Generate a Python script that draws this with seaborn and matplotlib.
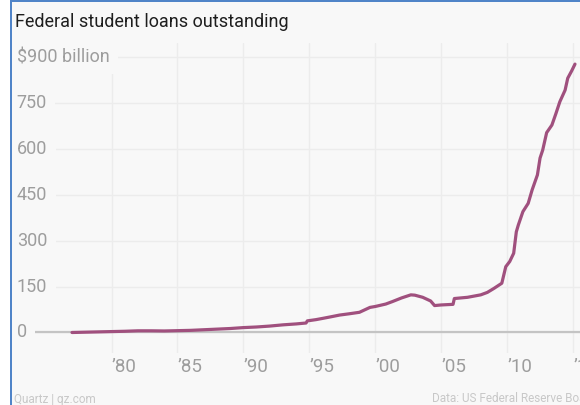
import matplotlib
matplotlib.use("Agg")
import matplotlib.pyplot as plt
import matplotlib.transforms as mtransforms
from matplotlib.patches import Rectangle
import seaborn as sns
import pandas as pd

# Federal student loans outstanding, billions of dollars
years = [1977.0, 1978.0, 1979.0, 1980.0, 1981.0, 1982.0, 1983.0, 1984.0,
         1985.0, 1986.0, 1987.0, 1988.0, 1989.0, 1990.0, 1991.0, 1992.0,
         1993.0, 1994.0, 1994.75, 1994.85, 1995.5, 1996.0, 1996.6, 1997.3,
         1998.0, 1998.8, 1999.2, 1999.6, 2000.0, 2000.8, 2001.3, 2002.0,
         2002.7, 2003.0, 2003.6, 2004.2, 2004.5, 2005.0, 2005.9, 2006.0,
         2007.0, 2008.0, 2008.5, 2009.0, 2009.6, 2009.9, 2010.2, 2010.5,
         2010.7, 2010.85, 2011.2, 2011.6, 2011.9, 2012.3, 2012.5, 2012.7,
         2013.0, 2013.4, 2013.7, 2014.0, 2014.4, 2014.6, 2014.9, 2015.15]
balance = [0, 1, 2, 3, 4, 5.5, 5.5, 5,
           6, 7, 9, 11, 13, 16, 18, 21,
           25, 28, 31, 38, 42, 46, 51, 57,
           61, 66, 74, 82, 85, 93, 101, 113,
           123, 122, 115, 103, 88, 90, 92, 111,
           115, 123, 131, 144, 161, 215, 232, 259,
           329, 351, 395, 422, 466, 515, 570, 596,
           653, 678, 715, 754, 792, 831, 855, 877]

x_ticks = [1980, 1985, 1990, 1995, 2000, 2005, 2010, 2015]
x_tick_labels = ["\u201980", "\u201985", "\u201990", "\u201995",
                 "\u201900", "\u201905", "\u201910", "\u201915"]
y_ticks = [0, 150, 300, 450, 600, 750, 900]
y_tick_labels = ["0", "150", "300", "450", "600", "750", "$900 billion"]

title = "Federal student loans outstanding"
credit = "Quartz | qz.com"
source = "Data: US Federal Reserve Board"

BG = "#f8f8f8"
LINE = "#a0507e"
TICK_GREY = "#9d9d9d"
GRID = "#ececec"

sns.set_theme(style="whitegrid")
plt.rcParams["font.family"] = ["Roboto", "DejaVu Sans"]

fig = plt.figure(figsize=(5.8, 4.05), dpi=100, facecolor=BG)
W, H = 580, 405

# frame: white margin with a blue rule on the left and top
fig.patches.append(Rectangle((0, 0), 10 / W, 1, transform=fig.transFigure,
                             facecolor="white", edgecolor="none", zorder=0))
fig.patches.append(Rectangle((10 / W, 0), 2 / W, 1, transform=fig.transFigure,
                             facecolor="#5084c8", edgecolor="none", zorder=1))
fig.patches.append(Rectangle((10 / W, 1 - 2 / H), 1, 2 / H, transform=fig.transFigure,
                             facecolor="#5084c8", edgecolor="none", zorder=1))

ax = fig.add_axes([14 / W, 1 - 353 / H, 566 / W, 310 / H])
ax.set_facecolor(BG)

df = pd.DataFrame({"year": years, "balance": balance})
sns.lineplot(data=df, x="year", y="balance", ax=ax, color=LINE,
             linewidth=2.3, zorder=4)

ax.set_xlim(1972.6, 2015.53)
ax.set_ylim(-67, 946)

ax.set_xticks(x_ticks)
ax.set_xticklabels(x_tick_labels, ha="left", color=TICK_GREY, fontsize=13.5)
ax.tick_params(axis="x", length=0, pad=3.5)
ax.set_yticks(y_ticks)
ax.set_yticklabels([])
ax.tick_params(axis="y", length=0)

ax.grid(True, color=GRID, linewidth=1.0)
ax.axhline(0, color="#c4c4c4", linewidth=1.6, zorder=3)

# y labels sit inside the plot on a background patch that hides the grid
trans = mtransforms.blended_transform_factory(ax.transAxes, ax.transData)
for val, lab in zip(y_ticks, y_tick_labels):
    ax.text(0.005, val, lab, transform=trans, ha="left", va="center",
            fontsize=13, color=TICK_GREY, zorder=5, clip_on=True,
            bbox=dict(facecolor=BG, edgecolor="none", pad=6))

for s in ax.spines.values():
    s.set_visible(False)
ax.set_xlabel("")
ax.set_ylabel("")

fig.text(15 / W, 1 - 27 / H, title, ha="left", va="baseline",
         fontsize=13, color="#1e1e1e")
fig.text(14 / W, 1 - 399 / H, credit, ha="left", va="center",
         fontsize=8.5, color="#c8c8c8")
fig.text(432 / W, 1 - 399 / H, source, ha="left", va="center",
         fontsize=8.5, color="#c8c8c8")

fig.savefig("out.png", dpi=100, facecolor=BG)
